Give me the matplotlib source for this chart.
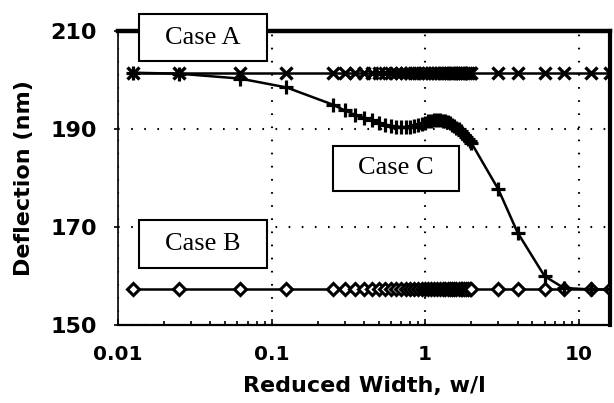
import numpy as np
import matplotlib.pyplot as plt
from matplotlib.patches import Rectangle

# reduced width w/l at which each case was computed
w = [0.0125, 0.025, 0.0625, 0.125, 0.25,
     0.3, 0.35, 0.4, 0.45, 0.5, 0.55, 0.6, 0.65, 0.7, 0.75,
     0.8, 0.85, 0.9, 0.95, 1.0, 1.05, 1.1, 1.15, 1.2, 1.25,
     1.3, 1.35, 1.4, 1.45, 1.5, 1.55, 1.6, 1.65, 1.7, 1.75,
     1.8, 1.85, 1.9, 1.95, 2.0, 3.0, 4.0, 6.0, 8.0, 12.0, 16.0]

# deflection (nm)
case_a = [201.5] * len(w)
case_b = [157.3] * len(w)
case_c = [201.5, 201.3, 200.3, 198.5, 195.0,
          193.8, 192.9, 192.3, 191.8, 191.3, 190.9, 190.7, 190.5, 190.4, 190.4,
          190.5, 190.6, 190.8, 191.0, 191.3, 191.6, 191.7, 191.8, 191.8, 191.8,
          191.7, 191.6, 191.4, 191.2, 190.9, 190.6, 190.3, 190.0, 189.6, 189.2,
          188.8, 188.4, 188.0, 187.6, 187.2, 177.7, 168.9, 160.0, 157.6, 157.3, 157.3]

labels = ['Case A', 'Case B', 'Case C']
# label box corners in axes fraction: left, top, width, height
boxes = [(0.043, 1.058, 0.26, 0.16), (0.043, 0.356, 0.26, 0.16), (0.436, 0.61, 0.257, 0.153)]

fig = plt.figure(figsize=(6.14, 4.03), dpi=100)
ax = fig.add_axes([0.1922, 0.193, 0.8013, 0.730])

ax.plot(w, case_a, color='black', lw=1.8, marker='x', ms=8.5, mew=2.4, zorder=3)
ax.plot(w, case_b, color='black', lw=1.8, marker='D', ms=6.5, mew=2.2, mfc='white', zorder=3)
ax.plot(w, case_c, color='black', lw=1.8, marker='+', ms=10, mew=2.3, zorder=4)

ax.set_xscale('log')
ax.set_xlim(0.01, 16)
ax.set_ylim(150, 210)
ax.set_xticks([0.01, 0.1, 1, 10])
ax.set_xticklabels(['0.01', '0.1', '1', '10'])
ax.set_yticks([150, 170, 190, 210])

ax.grid(True, which='major', color='black', lw=1.5, linestyle=(0, (0.8, 5.5)))
ax.tick_params(axis='x', which='both', direction='in', length=3, width=1.2, pad=14)
ax.tick_params(axis='x', which='major', length=4)
ax.tick_params(axis='y', direction='out', length=3, width=1.2, pad=12)
for lab in ax.get_xticklabels():
    lab.set_fontweight('bold')
    lab.set_fontsize(14.5)
for lab in ax.get_yticklabels():
    lab.set_fontweight('bold')
    lab.set_fontsize(16)

ax.spines['left'].set_linewidth(1.2)
ax.spines['bottom'].set_linewidth(1.6)
ax.spines['top'].set_linewidth(3.2)
ax.spines['right'].set_linewidth(3.0)

ax.set_xlabel('Reduced Width, w/l', fontsize=16, fontweight='bold', labelpad=9)
ax.set_ylabel('Deflection (nm)', fontsize=16, fontweight='bold', labelpad=12)

for lab, (x0, y0, bw, bh) in zip(labels, boxes):
    ax.add_patch(Rectangle((x0, y0 - bh), bw, bh, transform=ax.transAxes,
                           facecolor='white', edgecolor='black', lw=1.5,
                           zorder=5, clip_on=False))
    ax.text(x0 + bw / 2, y0 - bh / 2, lab, transform=ax.transAxes,
            ha='center', va='center', fontsize=19, family='Liberation Serif',
            zorder=6)

fig.savefig('out.png', dpi=100)
